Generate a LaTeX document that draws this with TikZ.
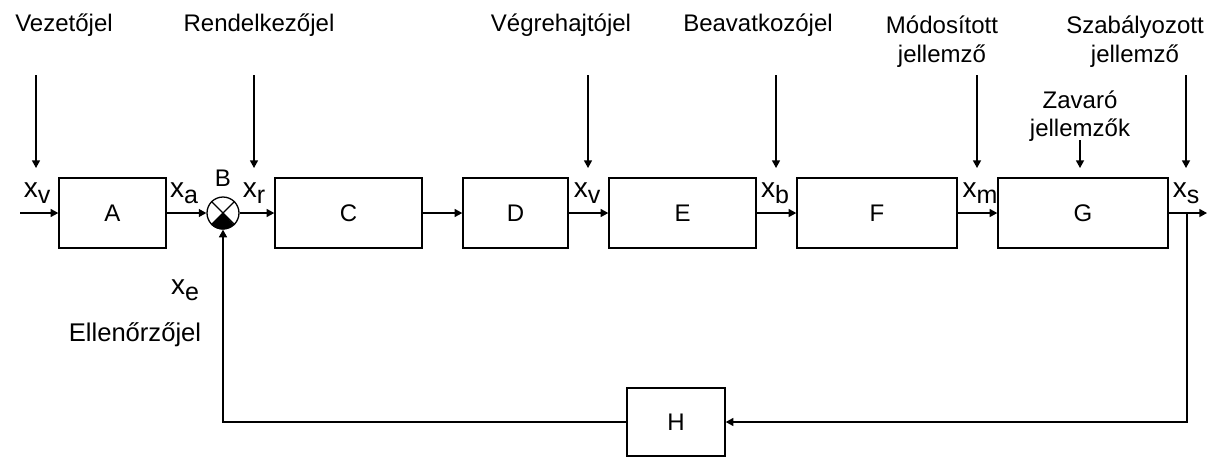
\documentclass[tikz,border=0pt]{standalone}
\usepackage{fontspec}
\setmainfont{Liberation Sans}
\usetikzlibrary{arrows.meta}
\newcommand\lbl{\fontsize{12}{15}\selectfont}
\newcommand\sg[1]{{\fontsize{14}{16}\selectfont x}\raisebox{-3pt}{\fontsize{12.5}{14}\selectfont #1}}
\begin{document}
\begin{tikzpicture}[x=0.5pt,y=-0.5pt,
  blk/.style={draw,line width=0.75pt,minimum height=35pt,inner sep=0pt,font=\lbl},
  sig/.style={line width=0.65pt,-{Triangle[length=3.8pt,width=4pt]}},
  ln/.style={line width=0.65pt},
  txt/.style={anchor=base,inner sep=0pt,font=\lbl,align=center},
  sub/.style={anchor=base,inner sep=0pt}]
\useasboundingbox (0,0) rectangle (1216,456);
% blocks
\node[blk,minimum width=53.5pt] (A) at (112.5,213) {A};
\node[draw,line width=0.65pt,circle,minimum size=16pt,inner sep=0pt] (B) at (223,213) {};
\node[blk,minimum width=73.5pt] (C) at (348.5,213) {C};
\node[blk,minimum width=52.5pt] (D) at (515.5,213) {D};
\node[blk,minimum width=73.5pt] (E) at (682.5,213) {E};
\node[blk,minimum width=80pt] (F) at (877,213) {F};
\node[blk,minimum width=85pt] (G) at (1083,213) {G};
\node[blk,minimum width=49pt,minimum height=34pt] (H) at (676,422) {H};
% summing junction details
\draw[ln] (B.north west) -- (B.south east);
\draw[ln] (B.north east) -- (B.south west);
\fill (B.center) -- (B.south west) arc[start angle=225,end angle=315,radius=8pt] -- cycle;
% coordinates
\coordinate (in) at (20,213);
\coordinate (out) at (1207,213);
\coordinate (br) at (1187,213);
\coordinate (brd) at (1187,422);
\coordinate (fbl) at (223,422);
% main path
\draw[sig] (in) -- (A.west);
\draw[sig] (A.east) -- (B.west);
\draw[sig] (B.east) -- (C.west);
\draw[sig] (C.east) -- (D.west);
\draw[sig] (D.east) -- (E.west);
\draw[sig] (E.east) -- (F.west);
\draw[sig] (F.east) -- (G.west);
\draw[sig] (G.east) -- (out);
\draw[sig] (br) -- (brd) -- (H.east);
\draw[sig] (H.west) -- (fbl) -- (B.south);
% vertical input arrows
\foreach \n/\xx/\ys in {a/36/75,b/254/75,c/588/75,d/776/75,e/977/75,f/1186/75,g/1080/140}{
  \coordinate (t\n) at (\xx,\ys);
  \coordinate (h\n) at (\xx,168);
  \draw[sig] (t\n) -- (h\n);
}
% top labels
\node[txt] (l1) at (64,31) {Vezetőjel};
\node[txt] (l2) at (259,31) {Rendelkezőjel};
\node[txt] (l3) at (561,31) {Végrehajtójel};
\node[txt] (l4) at (758,31) {Beavatkozójel};
\node[txt] (l5) at (942,62) {Módosított\\[-0.5pt]jellemző};
\node[txt] (l6) at (1135,62) {Szabályozott\\[-0.5pt]jellemző};
\node[txt] (l7) at (1080,136) {Zavaró\\[-1pt]jellemzők};
\node[txt] (l8) at (135,341) {\fontsize{12.8}{15}\selectfont Ellenőrzőjel};
\node[txt] (lB) at (223,186) {B};
% signal labels
\node[sub] (sv) at (37,197) {\sg{v}};
\node[sub] (sa) at (184,197) {\sg{a}};
\node[sub] (sr) at (254,197) {\sg{r}};
\node[sub] (sv2) at (587,197) {\sg{v}};
\node[sub] (sb) at (775,197) {\sg{b}};
\node[sub] (sm) at (980,197) {\sg{m}};
\node[sub] (ss) at (1186,197) {\sg{s}};
\node[sub] (se) at (185,294) {\sg{e}};
\end{tikzpicture}
\end{document}
